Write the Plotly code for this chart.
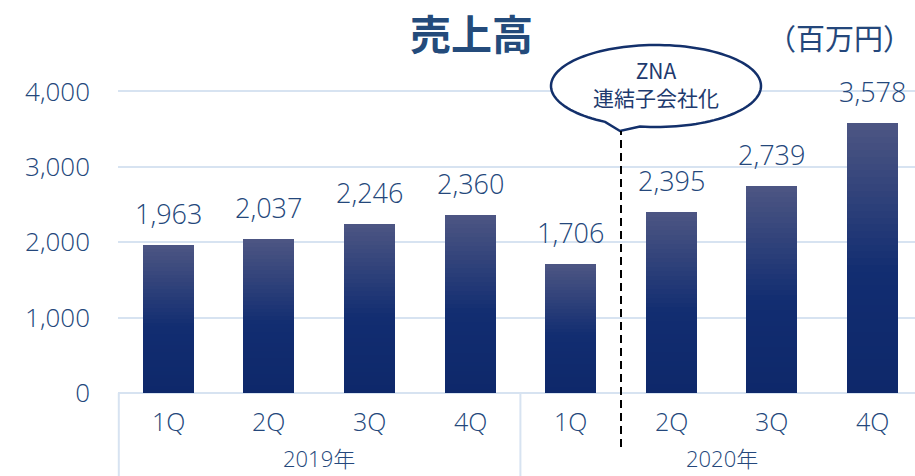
import math
import plotly.graph_objects as go

# ---------------- data ----------------
years = ["2019年", "2020年"]
quarters = ["1Q", "2Q", "3Q", "4Q", "1Q", "2Q", "3Q", "4Q"]
sales = [1963, 2037, 2246, 2360, 1706, 2395, 2739, 3578]
y_ticks = [0, 1000, 2000, 3000, 4000]
title_text = "売上高"
unit_text = "（百万円）"
callout_lines = ["ZNA", "連結子会社化"]

# ---------------- layout constants ----------------
W, H = 915, 476
ML, MR, MT, MB = 118, 0, 40, 83
PW, PH = W - ML - MR, H - MT - MB
SLOT = 100.6
PX_PER_UNIT = 301.6 / 4000.0

FONT = "'Open Sans', 'Noto Sans CJK JP', sans-serif"
JP = "'Noto Sans CJK JP', sans-serif"
BLUE_TXT = "#24477B"
GRID = "#D7E3F1"

def px2paper(px, py):
    return (px - ML) / PW, (MT + PH - py) / PH

def hexrgb(h):
    h = h.lstrip("#")
    return tuple(int(h[i:i + 2], 16) for i in (0, 2, 4))

def lerp(c1, c2, t):
    a, b = hexrgb(c1), hexrgb(c2)
    return "rgb(%d,%d,%d)" % tuple(round(a[i] + (b[i] - a[i]) * t) for i in range(3))

def grad_color(t):
    # t: 0 bottom -> 1 top
    if t < 0.45:
        return lerp("#0E286A", "#122D71", t / 0.45)
    return lerp("#122D71", "#4D5683", (t - 0.45) / 0.55)

fig = go.Figure()

x_idx = list(range(len(sales)))
N = 40
for k in range(N):
    t = (k + 0.5) / N
    fig.add_trace(go.Bar(
        x=x_idx, y=[v / N for v in sales], width=0.507,
        marker=dict(color=grad_color(t), line=dict(width=0)),
        showlegend=False, hoverinfo="skip"))

annotations = []
# value labels
for i, v in enumerate(sales):
    annotations.append(dict(x=i, y=v, xref="x", yref="y", text=f"{v:,}",
                            showarrow=False, xanchor="center", yanchor="bottom", yshift=11,
                            font=dict(family=FONT, size=27, color=BLUE_TXT, weight=300)))
# quarter labels
qy = px2paper(0, 421)[1]
for i, q in enumerate(quarters):
    annotations.append(dict(x=i, y=qy, xref="x", yref="paper", text=q,
                            showarrow=False, xanchor="center", yanchor="middle",
                            font=dict(family=FONT, size=25, color=BLUE_TXT, weight=300)))
# year labels
yy = px2paper(0, 458)[1]
for j, yr in enumerate(years):
    annotations.append(dict(x=j * 4 + 1.5, y=yy, xref="x", yref="paper", text=yr,
                            showarrow=False, xanchor="center", yanchor="middle",
                            font=dict(family=FONT, size=22, color=BLUE_TXT, weight=300)))
# title and unit
tx, ty = px2paper(471, 32)
annotations.append(dict(x=tx, y=ty, xref="paper", yref="paper", text="<b>" + title_text + "</b>",
                        showarrow=False, xanchor="center", yanchor="middle",
                        font=dict(family=JP, size=41, color="#244B7B")))
ux, uy = px2paper(839, 37)
annotations.append(dict(x=ux, y=uy, xref="paper", yref="paper", text=unit_text,
                        showarrow=False, xanchor="center", yanchor="middle",
                        font=dict(family=JP, size=29, color=BLUE_TXT)))
# callout text
cx, cy = px2paper(656, 83)
annotations.append(dict(x=cx, y=cy, xref="paper", yref="paper", text="<br>".join(callout_lines),
                        showarrow=False, xanchor="center", yanchor="middle", align="center",
                        font=dict(family=JP, size=21, color="#1E3A6E")))

shapes = []
# callout bubble
ecx, ecy, rx, ry = 656, 86, 105, 41
tip = (620, 131)
a0, a1 = math.radians(119), math.radians(98.8 + 360)
pts = []
steps = 120
for s in range(steps + 1):
    a = a0 + (a1 - a0) * s / steps
    pts.append((ecx + rx * math.cos(a), ecy + ry * math.sin(a)))
pts.append(tip)
path = ""
for n, (px, py) in enumerate(pts):
    xp, yp = px2paper(px, py)
    path += ("M" if n == 0 else "L") + f"{xp:.5f},{yp:.5f} "
path += "Z"
shapes.append(dict(type="path", path=path, xref="paper", yref="paper",
                   line=dict(color="#13306B", width=2.5), fillcolor="white", layer="above"))
# dashed divider
shapes.append(dict(type="line", xref="x", yref="paper", x0=4.5, x1=4.5,
                   y0=px2paper(0, 447)[1], y1=px2paper(0, 131)[1],
                   line=dict(color="black", width=2, dash="8px,5px"), layer="above"))
# category dividers
ybot = px2paper(0, H)[1]
shapes.append(dict(type="line", xref="paper", yref="paper", x0=0.001, x1=0.001, y0=0, y1=ybot,
                   line=dict(color=GRID, width=2)))
shapes.append(dict(type="line", xref="x", yref="paper", x0=3.5, x1=3.5, y0=0, y1=ybot,
                   line=dict(color=GRID, width=2)))

fig.update_layout(
    width=W, height=H, margin=dict(l=ML, r=MR, t=MT, b=MB, pad=0),
    paper_bgcolor="white", plot_bgcolor="white",
    barmode="stack", bargap=0,
    annotations=annotations, shapes=shapes,
    xaxis=dict(range=[-0.5, -0.5 + PW / SLOT], showticklabels=False, showgrid=False,
               zeroline=False, showline=False, ticks="", fixedrange=True),
    yaxis=dict(range=[0, PH / PX_PER_UNIT], tickvals=y_ticks,
               ticktext=[f"{v:,}" for v in y_ticks],
               showgrid=True, gridcolor=GRID, gridwidth=2,
               zeroline=True, zerolinecolor=GRID, zerolinewidth=2,
               showline=False, ticks="", ticklabelstandoff=27,
               tickfont=dict(family=FONT, size=26, color=BLUE_TXT, weight=300), fixedrange=True),
    showlegend=False,
)

fig.write_html("out.html", config={"displayModeBar": False},
               post_script="document.body.style.margin='0';document.body.style.padding='0';")
